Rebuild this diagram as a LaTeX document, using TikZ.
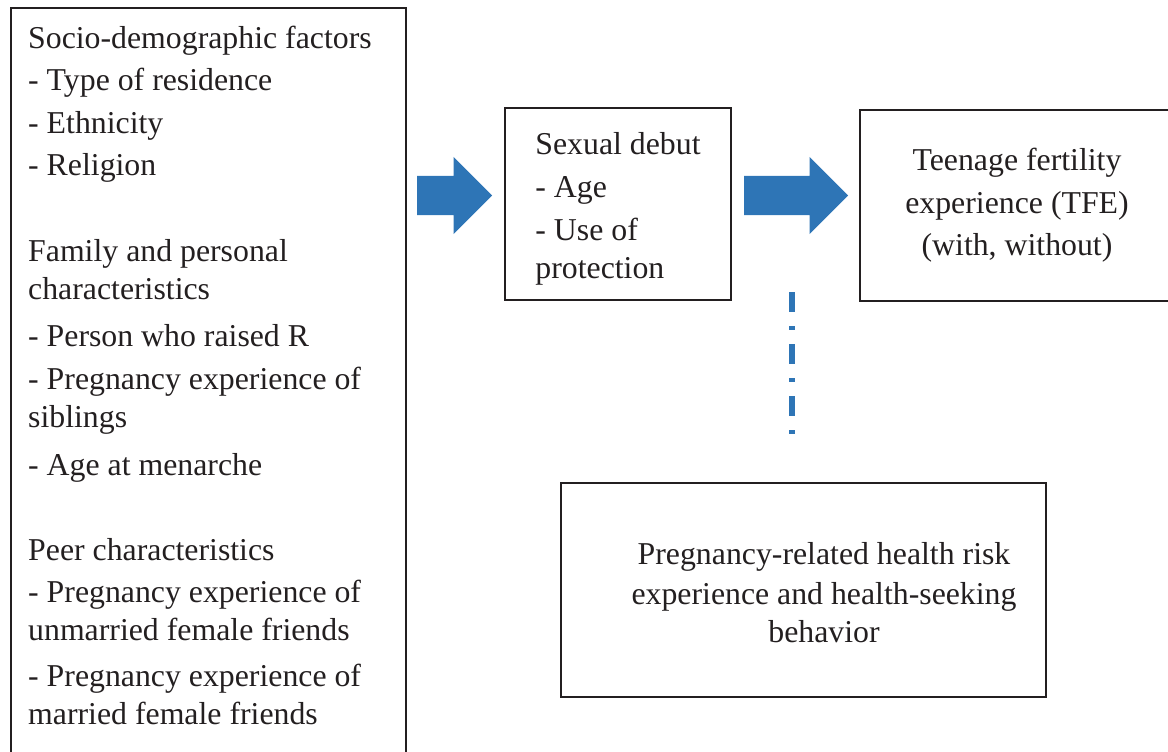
\documentclass[tikz,border=0pt]{standalone}
\usepackage{fontspec}
\setmainfont{Liberation Serif}
\usetikzlibrary{positioning, shapes.arrows}
\definecolor{arrowblue}{RGB}{46,117,182}
\definecolor{boxline}{RGB}{35,31,32}
\tikzset{
  box/.style      = {draw=boxline, line width=2pt, inner sep=0pt},
  txt/.style      = {font=\fontsize{31.8}{38}\selectfont, text=boxline, inner sep=0pt},
  bigarrow/.style = {single arrow, fill=arrowblue, inner sep=0pt, text height=19.5pt, text depth=19.5pt,
                     single arrow head extend=19pt, single arrow tip angle=90, anchor=tail},
  link/.style     = {arrowblue, line width=6pt, dash pattern=on 20pt off 14pt on 4pt off 14pt}
}

\begin{document}
\begin{tikzpicture}[x=1pt, y=-1pt]
  \useasboundingbox (0,0) rectangle (1168,752);
  \clip (0,0) rectangle (1168,752);
  % left column runs off the page
  \node[box, anchor=north west, minimum width=395, minimum height=790] (factors) at (10,7) {};
  \node[txt, align=left, anchor=north west] (factorstext) at (28,25.5)
    {Socio-demographic factors\\[4pt]
     - Type of residence\\[5pt]
     - Ethnicity\\[4pt]
     - Religion\\[48pt]
     Family and personal\\
     characteristics\\[9pt]
     - Person who raised R\\[5pt]
     - Pregnancy experience of\\
     siblings\\[10pt]
     - Age at menarche\\[47pt]
     Peer characteristics\\[4pt]
     - Pregnancy experience of\\
     unmarried female friends\\[8pt]
     - Pregnancy experience of\\
     married female friends};
  \node[box, minimum width=226, minimum height=192] (debut) at (618,204) {};
  \node[txt, align=left] (debuttext) at ([yshift=-5]debut.center)
    {Sexual debut\\[5pt] - Age\\[5pt] - Use of\\ protection};
  \node[box, minimum width=314, minimum height=191] (tfe) at (1017,205.5) {};
  \node[txt, align=center] (tfetext) at (tfe.center)
    {Teenage fertility\\[5pt] experience (TFE)\\[4pt] (with, without)};
  \node[box, minimum width=485, minimum height=214] (risk) at (803.5,590) {};
  \node[txt, align=center] (risktext) at ([xshift=20.5, yshift=-3]risk.center)
    {Pregnancy-related health risk\\[2pt] experience and health-seeking\\ behavior};
  % block arrows
  \node[bigarrow, minimum height=75] (arrA) at (417,195.5) {};
  \node[bigarrow, minimum height=104] (arrB) at (744,195.5) {};
  % dash-dot link
  \coordinate (linktop) at (792,292);
  \coordinate (linkbot) at (792,447);
  \draw[link] (linktop) -- (linkbot);
\end{tikzpicture}
\end{document}
